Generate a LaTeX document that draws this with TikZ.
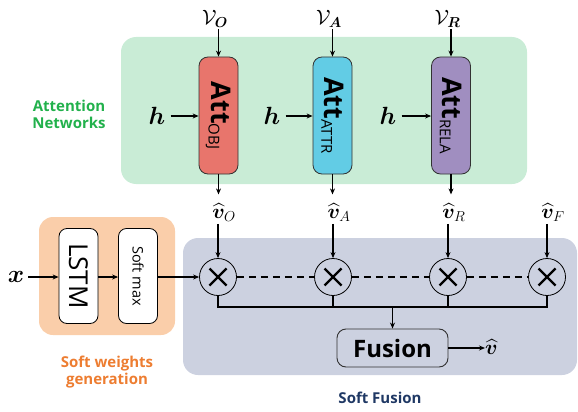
\documentclass[tikz,border=0pt]{standalone}
\usepackage{fontspec}
\setmainfont{Open Sans}
\usepackage{amsmath,bm}
\usetikzlibrary{arrows.meta}

\definecolor{attbg}{RGB}{201,236,214}
\definecolor{objfill}{RGB}{232,117,108}
\definecolor{attrfill}{RGB}{98,204,229}
\definecolor{relafill}{RGB}{160,142,192}
\definecolor{swbg}{RGB}{250,206,170}
\definecolor{fusebg}{RGB}{204,209,224}
\definecolor{greentxt}{RGB}{34,177,76}
\definecolor{orangetxt}{RGB}{237,125,49}
\definecolor{bluetxt}{RGB}{31,56,100}
\definecolor{edge}{RGB}{50,50,50}

\newcommand{\fsz}[1]{\fontsize{#1}{#1}\selectfont}

\tikzset{
  arr/.style={-{Stealth[length=6pt,width=5pt]}, line width=1.2pt},
  attbox/.style={draw=edge, line width=0.8pt, rounded corners=9pt,
    minimum width=39pt, minimum height=117pt, inner sep=0pt},
  whitebox/.style={draw=black, fill=white, line width=0.8pt, rounded corners=8pt,
    minimum width=39pt, minimum height=95pt, inner sep=0pt},
  mult/.style={circle, draw=black, line width=0.8pt, minimum size=37pt, inner sep=0pt},
  mathlbl/.style={inner sep=0pt, font=\fsz{20}},
  caption/.style={font=\fsz{15}\bfseries, align=center, inner sep=0pt},
}

\begin{document}
\begin{tikzpicture}[x=1pt, y=-1pt]
\useasboundingbox (0,0) rectangle (578,412);

% background panels
\fill[attbg, rounded corners=15pt] (121,37) rectangle (527,184);
\fill[swbg, rounded corners=14pt] (39,217) rectangle (175,335);
\fill[fusebg, rounded corners=15pt] (183,238) rectangle (577,375);

% panel captions
\node[caption, text=greentxt] (capatt) at (69,114) {Attention\\[2pt]Networks};
\node[caption, text=orangetxt] (capsw) at (107,372) {Soft weights\\[2pt]generation};
\node[caption, text=bluetxt] (capsf) at (380,398) {Soft Fusion};

% attention modules
\node[attbox, fill=objfill] (obj) at (218.5,115.5) {};
\node[attbox, fill=attrfill] (attr) at (332.5,115.5) {};
\node[attbox, fill=relafill] (rela) at (451,115.5) {};
\foreach \b/\s in {obj/OBJ, attr/ATTR, rela/RELA}{
  \node[rotate=-90, inner sep=0pt] at (\b) {{\fsz{27}\bfseries Att}{\fsz{15}\raisebox{-3pt}{\s}}};
}

% visual feature inputs
\node[mathlbl, font=\fsz{21}, anchor=south] (vo) at (215,28) {$\mathcal{V}_{\bm{O}}$};
\node[mathlbl, font=\fsz{21}, anchor=south] (va) at (329,28) {$\mathcal{V}_{\bm{A}}$};
\node[mathlbl, font=\fsz{21}, anchor=south] (vr) at (447.5,28) {$\mathcal{V}_{\bm{R}}$};
\draw[arr] (obj.north |- vo.south) ++(0,1) -- (obj.north);
\draw[arr] (attr.north |- va.south) ++(0,1) -- (attr.north);
\draw[arr] (rela.north |- vr.south) ++(0,1) -- (rela.north);

% hidden state inputs
\node[mathlbl, font=\fsz{24}] (h1) at (157,116) {$\bm{h}$};
\node[mathlbl, font=\fsz{24}] (h2) at (272,116) {$\bm{h}$};
\node[mathlbl, font=\fsz{24}] (h3) at (388,116) {$\bm{h}$};
\draw[arr] (h1.east) ++(5,0) -- (obj.west |- h1.east);
\draw[arr] (h2.east) ++(5,0) -- (attr.west |- h2.east);
\draw[arr] (h3.east) ++(5,0) -- (rela.west |- h3.east);

% attended features
\node[mathlbl, anchor=north] (ho) at (224,203) {$\widehat{\bm{v}}_{O}$};
\node[mathlbl, anchor=north] (ha) at (339,203) {$\widehat{\bm{v}}_{A}$};
\node[mathlbl, anchor=north] (hr) at (454,203) {$\widehat{\bm{v}}_{R}$};
\node[mathlbl, anchor=north] (hf) at (553,203) {$\widehat{\bm{v}}_{F}$};
\draw[arr] (obj.south) -- ++(0,20);
\draw[arr] (attr.south) -- ++(0,20);
\draw[arr] (rela.south) -- ++(0,20);

% multipliers
\foreach \n/\x in {m1/218, m2/333, m3/448, m4/547}{
  \node[mult] (\n) at (\x,277) {};
  \draw[line width=2.4pt] ([shift={(-8.5,-8.5)}]\n.center) -- ([shift={(8.5,8.5)}]\n.center);
  \draw[line width=2.4pt] ([shift={(-8.5,8.5)}]\n.center) -- ([shift={(8.5,-8.5)}]\n.center);
}
\draw[arr] (ho.south -| m1.north) ++(0,2) -- (m1.north);
\draw[arr] (ha.south -| m2.north) ++(0,2) -- (m2.north);
\draw[arr] (hr.south -| m3.north) ++(0,2) -- (m3.north);
\draw[arr] (hf.south -| m4.north) ++(0,2) -- (m4.north);
\draw[line width=1.2pt, dash pattern=on 7pt off 5pt] (m1) -- (m2);
\draw[line width=1.2pt, dash pattern=on 7pt off 5pt] (m2) -- (m3);
\draw[line width=1.2pt, dash pattern=on 7pt off 5pt] (m3) -- (m4);

% soft weights generation
\node[mathlbl, font=\fsz{24}] (x) at (16,277) {$\bm{x}$};
\node[whitebox] (lstm) at (78.5,276) {};
\node[rotate=-90, inner sep=0pt, font=\fsz{26}] at (lstm) {LSTM};
\node[whitebox] (smax) at (138,276) {};
\node[rotate=-90, inner sep=0pt, font=\fsz{14.5}] at (smax) {Soft max};
\draw[arr] (x.east) ++(4,0) -- (lstm.west |- m1);
\draw[arr] (lstm.east |- m1) -- (smax.west |- m1);
\draw[arr] (smax.east |- m1) -- (m1.west);

% fusion
\node[draw=edge, fill=fusebg, line width=0.9pt, rounded corners=9pt,
      minimum width=111pt, minimum height=38pt, font=\fsz{24}\bfseries] (fusion) at (392.5,348) {Fusion};
\coordinate (bus) at (392.5,307);
\draw[line width=1.2pt] (m1.south) |- (m4.south |- bus) -- (m4.south);
\draw[line width=1.2pt] (m2.south) -- (m2.south |- bus);
\draw[line width=1.2pt] (m3.south) -- (m3.south |- bus);
\draw[arr] (bus) -- (fusion.north);
\node[mathlbl, anchor=west] (vh) at (485,347) {$\widehat{\bm{v}}$};
\draw[arr] (fusion.east) -- (fusion.east -| vh.west);
\end{tikzpicture}
\end{document}
